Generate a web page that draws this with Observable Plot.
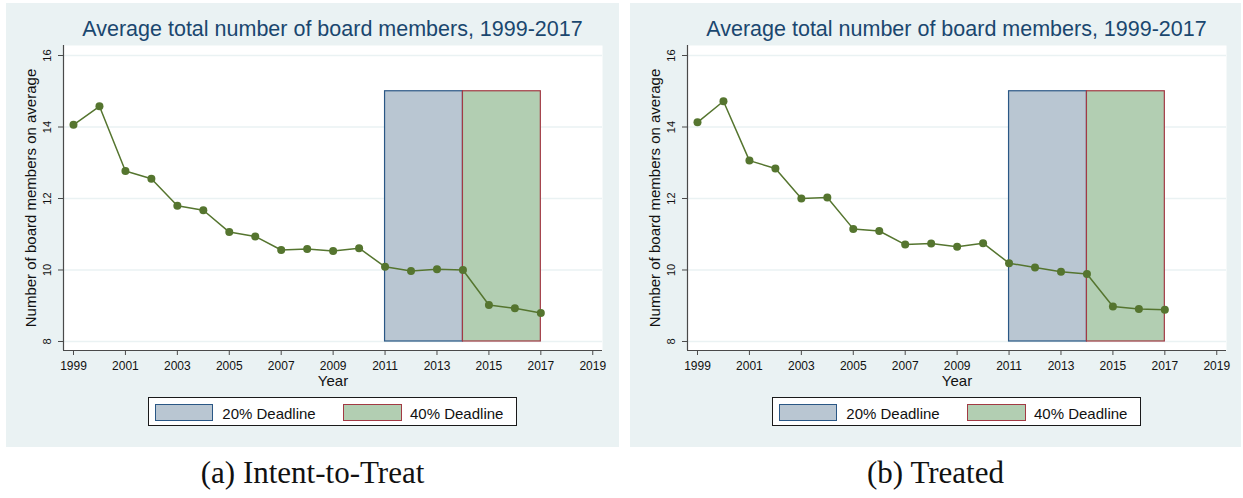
<!DOCTYPE html>
<html>
<head>
<meta charset="utf-8">
<script src="https://cdn.jsdelivr.net/npm/d3@7"></script>
<script src="https://cdn.jsdelivr.net/npm/@observablehq/plot@0.6"></script>
<style>
  body { margin: 0; background: #ffffff; }
  #root { position: relative; width: 1243px; height: 498px; overflow: hidden; font-family: "Liberation Sans", Arial, sans-serif; }
  .bg { position: absolute; background: #eaf2f3; }
  .title { position: absolute; font-size: 21.5px; line-height: 1; color: #1a476f; white-space: nowrap; transform: translateX(-50%); }
  .plotwrap { position: absolute; top: 0; width: 625px; height: 400px; }
  .plotwrap svg { max-width: none !important; }
  .legend { position: absolute; border: 1px solid #1a1a1a; background: #ffffff; box-sizing: border-box; }
  .sw { position: absolute; box-sizing: border-box; border-width: 1.5px; border-style: solid; }
  .lt { position: absolute; font-size: 15px; line-height: 1; white-space: nowrap; color: #111; }
  .cap { position: absolute; font-family: "Liberation Serif", "Times New Roman", serif; font-size: 31px; line-height: 1; white-space: nowrap; transform: translateX(-50%); color: #111; }
</style>
</head>
<body>
<div id="root"></div>
<script>
// ---- data ----
const years = [1999, 2000, 2001, 2002, 2003, 2004, 2005, 2006, 2007, 2008, 2009, 2010, 2011, 2012, 2013, 2014, 2015, 2016, 2017];
const ittValues = [14.06, 14.58, 12.77, 12.55, 11.80, 11.67, 11.06, 10.94, 10.56, 10.59, 10.53, 10.61, 10.09, 9.97, 10.02, 10.00, 9.02, 8.93, 8.80];
const treatedValues = [14.13, 14.72, 13.06, 12.84, 12.00, 12.03, 11.15, 11.09, 10.71, 10.74, 10.65, 10.75, 10.19, 10.07, 9.95, 9.89, 8.98, 8.91, 8.89];
const xTicks = [1999, 2001, 2003, 2005, 2007, 2009, 2011, 2013, 2015, 2017, 2019];
const yTicks = [8, 10, 12, 14, 16];
const deadlineLabels = ["20% Deadline", "40% Deadline"];
const deadlineStart = [2011, 2014];
const deadlineEnd = [2014, 2017];
const deadlineLow = [8, 8];
const deadlineHigh = [15, 15];
const chartTitle = "Average total number of board members, 1999-2017";
const xLabel = "Year";
const yLabel = "Number of board members on average";
const captions = ["(a) Intent-to-Treat", "(b) Treated"];

// ---- styles ----
const lineColor = "#55752f";
const boxFill = ["#b9c6d2", "#b2ceb2"];
const boxStroke = ["#2a5785", "#a23a44"];
const axisColor = "#4a4a4a";
const gridColor = "#eaf2f3";

const panels = [
  {values: ittValues, offset: 0, bgLeft: 6, bgWidth: 613, caption: captions[0]},
  {values: treatedValues, offset: 624, bgLeft: 630, bgWidth: 611, caption: captions[1]}
];

const root = document.getElementById("root");
const xDomain = [1998.615, 2019.375];
const yDomain = [7.748, 16.28];

function el(cls, css, text) {
  const d = document.createElement("div");
  d.className = cls;
  Object.assign(d.style, css);
  if (text != null) d.textContent = text;
  root.appendChild(d);
  return d;
}

for (const p of panels) {
  el("bg", {left: p.bgLeft + "px", top: "3px", width: p.bgWidth + "px", height: "444px"});
  el("title", {left: (332.5 + p.offset) + "px", top: "18.8px"}, chartTitle);

  const data = years.map((y, i) => ({year: y, value: p.values[i]}));
  const boxes = deadlineLabels.map((l, i) => ({label: l, x1: deadlineStart[i], x2: deadlineEnd[i], y1: deadlineLow[i], y2: deadlineHigh[i]}));

  const svg = Plot.plot({
    width: 625,
    height: 400,
    marginLeft: 63,
    marginRight: 23,
    marginTop: 45,
    marginBottom: 50,
    x: {domain: xDomain},
    y: {domain: yDomain},
    style: {background: "transparent", fontFamily: "'Liberation Sans', Arial, sans-serif", color: "#111", overflow: "visible", maxWidth: "none"},
    marks: [
      Plot.frame({fill: "white", stroke: "none"}),
      Plot.ruleY(yTicks, {stroke: gridColor, strokeWidth: 1.5}),
      Plot.rect([boxes[0]], {x1: "x1", x2: "x2", y1: "y1", y2: "y2", fill: boxFill[0], stroke: boxStroke[0], strokeWidth: 1.2}),
      Plot.rect([boxes[1]], {x1: "x1", x2: "x2", y1: "y1", y2: "y2", fill: boxFill[1], stroke: boxStroke[1], strokeWidth: 1.2}),
      Plot.line(data, {x: "year", y: "value", stroke: lineColor, strokeWidth: 1.5}),
      Plot.dot(data, {x: "year", y: "value", r: 4, fill: lineColor, stroke: "none"}),
      Plot.ruleX([xDomain[0]], {stroke: axisColor, strokeWidth: 1.2}),
      Plot.ruleY([yDomain[0]], {stroke: axisColor, strokeWidth: 1.2}),
      Plot.axisX({ticks: xTicks, tickSize: 5, tickPadding: 5.5, fontSize: 12, tickFormat: d => String(d), stroke: axisColor, fill: "#111", label: null}),
      Plot.axisY({ticks: yTicks, tickSize: 5, tickFormat: () => "", stroke: axisColor, label: null}),
      Plot.text(yTicks, {y: d => d, frameAnchor: "left", dx: -16.5, rotate: -90, textAnchor: "middle", lineAnchor: "middle", text: d => String(d), fontSize: 11, fill: "#111"}),
      Plot.text([xLabel], {frameAnchor: "bottom", dy: 31, textAnchor: "middle", lineAnchor: "middle", text: d => d, fontSize: 15, fill: "#111"}),
      Plot.text([yLabel], {frameAnchor: "left", dx: -32, rotate: -90, textAnchor: "middle", lineAnchor: "middle", text: d => d, fontSize: 15, fill: "#111"})
    ]
  });
  const wrap = el("plotwrap", {left: p.offset + "px"});
  wrap.appendChild(svg);

  // legend
  const lx = 148.3 + p.offset;
  el("legend", {left: lx + "px", top: "397.3px", width: "368.4px", height: "28.7px"});
  const swLeft = [155, 343.3];
  const txLeft = [222.3, 410];
  for (let i = 0; i < deadlineLabels.length; i++) {
    el("sw", {left: (swLeft[i] + p.offset) + "px", top: "404px", width: "58.3px", height: "16.7px", background: boxFill[i], borderColor: boxStroke[i]});
    el("lt", {left: (txLeft[i] + p.offset) + "px", top: "405.6px"}, deadlineLabels[i]);
  }

  el("cap", {left: (p.bgLeft + p.bgWidth / 2) + "px", top: "457px"}, p.caption);
}
</script>
</body>
</html>
